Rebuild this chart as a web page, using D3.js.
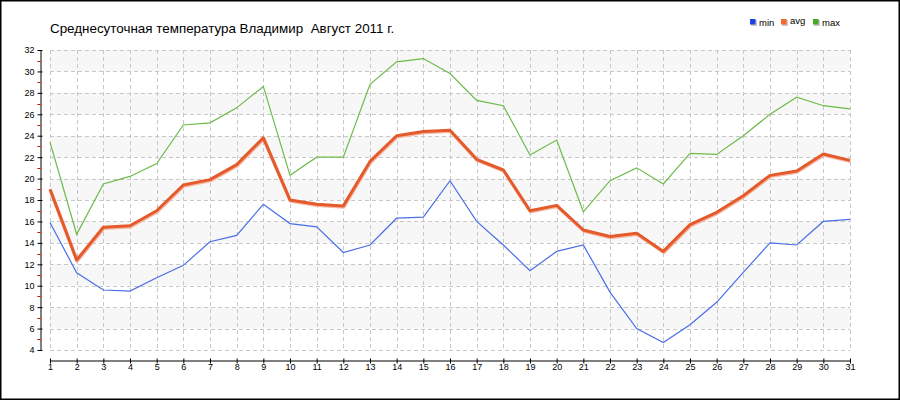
<!DOCTYPE html>
<html>
<head>
<meta charset="utf-8">
<script src="https://cdn.jsdelivr.net/npm/d3@7"></script>
<style>
    body { margin: 0; background: #fff; }
    svg { display: block; font-family: "Liberation Sans", Arial, sans-serif; }
</style>
</head>
<body>
<div id="chart"></div>
<script>
// Daily temperatures, Vladimir, August 2011
const days = d3.range(1, 32);
const minTemp = [15.9, 11.2, 9.6, 9.5, 10.75, 11.9, 14.1, 14.7, 17.6, 15.8, 15.5,
    13.1, 13.8, 16.3, 16.4, 19.8, 16.0, 13.8, 11.4, 13.2, 13.8,
    9.4, 6.0, 4.7, 6.35, 8.45, 11.25, 14.0, 13.8, 16.0, 16.2];
const avgTemp = [19.0, 12.4, 15.45, 15.6, 17.0, 19.4, 19.9, 21.3, 23.8, 18.0, 17.6,
    17.45, 21.6, 24.0, 24.4, 24.5, 21.8, 20.8, 17.0, 17.5, 15.2,
    14.6, 14.9, 13.2, 15.7, 16.85, 18.4, 20.3, 20.7, 22.3, 21.7];
const maxTemp = [23.4, 14.8, 19.5, 20.2, 21.4, 25.0, 25.2, 26.6, 28.6, 20.3, 22.0,
    22.0, 28.8, 30.9, 31.2, 29.8, 27.3, 26.8, 22.2, 23.6, 16.9,
    19.8, 21.0, 19.5, 22.35, 22.25, 24.0, 26.0, 27.6, 26.8, 26.5];
const yTicks = d3.range(4, 33, 2);
const seriesNames = ['min', 'avg', 'max'];

const title = 'Среднесуточная температура Владимир  Август 2011 г.';

const width = 900, height = 400;
const plot = {left: 50, right: 850, top: 50, bottom: 350};

const svg = d3.select('#chart').append('svg')
    .attr('width', width)
    .attr('height', height);

const x = d3.scaleLinear().domain([1, 31]).range([plot.left, plot.right]);
const y = d3.scaleLinear().domain([4, 32]).range([plot.bottom, plot.top]);

// alternating bands
svg.append('g')
    .selectAll('rect')
    .data(yTicks.filter(t => t < 32 && (t % 4 === 2)))
    .enter()
    .append('rect')
    .attr('x', plot.left)
    .attr('width', plot.right - plot.left)
    .attr('y', d => y(d + 2))
    .attr('height', d => y(d) - y(d + 2))
    .attr('fill', '#f7f7f7');

// grid
const grid = svg.append('g')
    .attr('stroke', '#c8c8c8')
    .attr('stroke-dasharray', '4,3')
    .attr('shape-rendering', 'crispEdges');

grid.selectAll('line.h')
    .data(yTicks)
    .enter()
    .append('line')
    .attr('x1', plot.left)
    .attr('x2', plot.right)
    .attr('y1', d => Math.round(y(d)) + 0.5)
    .attr('y2', d => Math.round(y(d)) + 0.5);

grid.selectAll('line.v')
    .data(days)
    .enter()
    .append('line')
    .attr('y1', plot.top)
    .attr('y2', plot.bottom)
    .attr('x1', d => Math.round(x(d)) + 0.5)
    .attr('x2', d => Math.round(x(d)) + 0.5);

// y axis with red minor ticks
const yAxis = svg.append('g')
    .attr('transform', 'translate(40.5,0)')
    .call(d3.axisLeft(y).tickValues(yTicks).tickSize(3).tickSizeOuter(0).tickPadding(3));
yAxis.select('.domain').attr('stroke', '#000');
yAxis.selectAll('.tick line').attr('x2', 2).attr('x1', -3);
yAxis.selectAll('text')
    .attr('font-size', '9px')
    .attr('font-family', '"Liberation Sans", Arial, sans-serif')
    .attr('fill', '#000');

svg.append('g')
    .selectAll('line')
    .data(d3.range(5, 32, 2))
    .enter()
    .append('line')
    .attr('x1', 37.5)
    .attr('x2', 40.5)
    .attr('y1', d => Math.round(y(d)) + 0.5)
    .attr('y2', d => Math.round(y(d)) + 0.5)
    .attr('stroke', '#e00000');

// x axis
const xAxis = svg.append('g')
    .attr('transform', 'translate(0,360.5)')
    .call(d3.axisBottom(x).tickValues(days).tickFormat(d3.format('d')).tickSize(3).tickSizeOuter(0).tickPadding(0));
xAxis.select('.domain').attr('stroke', '#000');
xAxis.selectAll('.tick line').attr('y1', -2).attr('y2', 3);
xAxis.selectAll('text')
    .attr('font-size', '9px')
    .attr('font-family', '"Liberation Sans", Arial, sans-serif')
    .attr('fill', '#000');

// lines
const line = data => d3.line()
    .x((d, i) => x(days[i]))
    .y(d => y(d))(data);

svg.append('path')
    .attr('d', line(maxTemp))
    .attr('fill', 'none')
    .attr('stroke', '#6cbb4a')
    .attr('stroke-width', 1.2);

svg.append('path')
    .attr('d', line(minTemp))
    .attr('fill', 'none')
    .attr('stroke', '#4a6ee8')
    .attr('stroke-width', 1.2);

// avg line with soft shadow
svg.append('path')
    .attr('d', line(avgTemp))
    .attr('transform', 'translate(0.5,1)')
    .attr('fill', 'none')
    .attr('stroke', '#f4b8a4')
    .attr('stroke-width', 3.5)
    .attr('stroke-linejoin', 'round');

svg.append('path')
    .attr('d', line(avgTemp))
    .attr('fill', 'none')
    .attr('stroke', '#e55a2a')
    .attr('stroke-width', 3)
    .attr('stroke-linejoin', 'round');

// title (keep the double space)
svg.append('text')
    .attr('x', 50)
    .attr('y', 33)
    .attr('font-size', '13.4px')
    .attr('fill', '#000')
    .style('white-space', 'pre')
    .text(title);

// legend
const legendColors = {min: '#1a44e0', avg: '#f06a30', max: '#44aa22'};
const legendX = [750, 781, 813];
const legend = svg.append('g');
seriesNames.forEach((name, i) => {
    legend.append('rect')
        .attr('x', legendX[i] + 1).attr('y', 20)
        .attr('width', 6).attr('height', 6)
        .attr('fill', '#c8c8c8');
    legend.append('rect')
        .attr('x', legendX[i]).attr('y', 19)
        .attr('width', 5.5).attr('height', 5.5)
        .attr('fill', legendColors[name]);
    legend.append('text')
        .attr('x', legendX[i] + 9)
        .attr('y', name === 'avg' ? 24 : 25.5)
        .attr('font-size', '9.5px')
        .attr('fill', '#000')
        .text(name);
});

// frame
svg.append('rect')
    .attr('x', 0.75).attr('y', 0.75)
    .attr('width', width - 1.5).attr('height', height - 1.5)
    .attr('fill', 'none')
    .attr('stroke', '#000')
    .attr('stroke-width', 1.5);
</script>
</body>
</html>
